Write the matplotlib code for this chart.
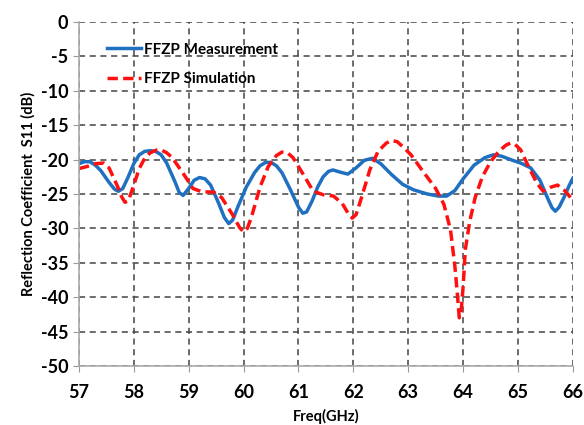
import matplotlib
matplotlib.use('Agg')
import matplotlib.pyplot as plt

plt.rcParams['font.family'] = ['Lato', 'DejaVu Sans']
plt.rcParams['axes.unicode_minus'] = False

# values
meas_f = [57.0, 57.1, 57.2, 57.3, 57.4, 57.55, 57.65, 57.72, 57.8, 57.9, 58.0, 58.1, 58.2, 58.3, 58.4, 58.5,
          58.6, 58.75, 58.83, 58.9, 59.0, 59.1, 59.2, 59.3, 59.4, 59.55, 59.65, 59.73, 59.8, 59.9,
          60.05, 60.2, 60.3, 60.4, 60.5, 60.6, 60.7, 60.85, 61.0, 61.08, 61.15, 61.25, 61.35,
          61.45, 61.55, 61.63, 61.75, 61.9, 62.05, 62.2, 62.35, 62.5, 62.7, 62.9, 63.1, 63.35,
          63.55, 63.7, 63.85, 64.0, 64.2, 64.4, 64.55, 64.7, 64.9, 65.05, 65.23, 65.4, 65.55,
          65.62, 65.68, 65.75, 65.85, 65.93, 66.0]
meas_db = [-20.6, -20.3, -20.3, -20.8, -21.6, -23.3, -24.3, -24.6, -24.2, -22.5, -20.6, -19.3, -18.8,
           -18.7, -18.8, -19.3, -20.5, -23.2, -24.8, -25.2, -24.2, -23.0, -22.6, -22.8, -23.7,
           -26.4, -28.4, -29.3, -28.8, -26.8, -24.0, -21.9, -20.9, -20.4, -20.4, -20.9, -21.9,
           -24.3, -26.9, -27.8, -27.6, -26.0, -24.0, -22.5, -21.7, -21.5, -21.8, -22.1, -21.2,
           -20.1, -19.8, -20.6, -22.2, -23.6, -24.4, -25.0, -25.3, -25.3, -24.5, -22.8, -20.8,
           -19.7, -19.3, -19.5, -20.1, -20.5, -21.2, -23.0, -25.8, -27.0, -27.5, -26.9, -25.3,
           -23.8, -22.7]

sim_f = [57.0, 57.15, 57.3, 57.45, 57.55, 57.7, 57.78, 57.84, 57.9, 57.98, 58.1, 58.2, 58.3, 58.42,
         58.5, 58.6, 58.7, 58.9, 59.08, 59.25, 59.45, 59.6, 59.8, 59.93, 60.0, 60.07, 60.15, 60.3,
         60.45, 60.6, 60.7, 60.8, 60.9, 61.1, 61.27, 61.45, 61.64, 61.8, 61.92, 61.98, 62.05,
         62.15, 62.3, 62.45, 62.6, 62.7, 62.8, 62.9, 63.05, 63.25, 63.5, 63.65, 63.77, 63.85,
         63.9, 63.93, 63.96, 64.0, 64.04, 64.12, 64.22, 64.35, 64.5, 64.65, 64.78, 64.86, 64.95,
         65.05, 65.19, 65.35, 65.46, 65.6, 65.72, 65.85, 66.0]
sim_db = [-21.3, -21.0, -20.6, -20.5, -21.2, -23.8, -25.4, -26.2, -26.0, -24.2, -21.3, -19.8, -19.0,
          -18.6, -18.6, -19.0, -19.7, -22.0, -24.2, -24.7, -24.7, -25.5, -28.0, -29.9, -30.5,
          -30.0, -28.2, -24.0, -21.0, -19.4, -18.9, -19.0, -19.7, -22.3, -24.6, -25.1, -25.3,
          -26.4, -28.0, -28.5, -28.0, -25.5, -21.5, -18.8, -17.6, -17.2, -17.4, -18.1, -19.3,
          -21.5, -24.2, -26.5, -30.2, -35.5, -40.0, -43.0, -42.5, -38.5, -33.1, -29.0, -25.5,
          -22.5, -20.3, -18.8, -17.9, -17.6, -17.8, -18.6, -21.0, -23.5, -24.6, -24.0, -23.7,
          -24.5, -25.9]

xticks = list(range(57, 67))
yticks = list(range(-50, 1, 5))

fig = plt.figure(figsize=(5.84, 4.25), dpi=100)
ax = fig.add_axes([0.135, 0.139, 0.846, 0.809])

ax.plot(meas_f, meas_db, color='#1f70c1', lw=2.5, solid_joinstyle='round',
        label='FFZP Measurement')
ax.plot(sim_f, sim_db, color='#ff1010', lw=2.5, ls=(0, (3, 1.5)), dash_joinstyle='round',
        label='FFZP Simulation')

ax.set_xlim(57, 66)
ax.set_ylim(-50, 0)
ax.set_xticks(xticks)
ax.set_yticks(yticks)
ax.grid(True, color='#444444', ls=(0, (4, 3)), lw=1.1)
ax.tick_params(labelsize=13, length=4, color='#999999')
for lab in ax.get_xticklabels() + ax.get_yticklabels():
    lab.set_fontweight('bold')
ax.tick_params(axis='x', pad=9)

for s in ['top', 'right']:
    ax.spines[s].set_visible(False)
for s in ['left', 'bottom']:
    ax.spines[s].set_color('#aaaaaa')
    ax.spines[s].set_linewidth(1.2)

ax.set_ylabel('Reflection Coefficient  S11 (dB)', fontsize=10.5, fontweight='bold', labelpad=4)
ax.set_xlabel('Freq(GHz)', fontsize=10.5, fontweight='bold', labelpad=6)

leg = ax.legend(loc='upper left', bbox_to_anchor=(0.03, 0.98), frameon=False,
                prop={'size': 11, 'weight': 'bold'}, handlelength=2.2, handletextpad=0.2,
                labelspacing=1.0)

fig.savefig('out.png', dpi=100)
